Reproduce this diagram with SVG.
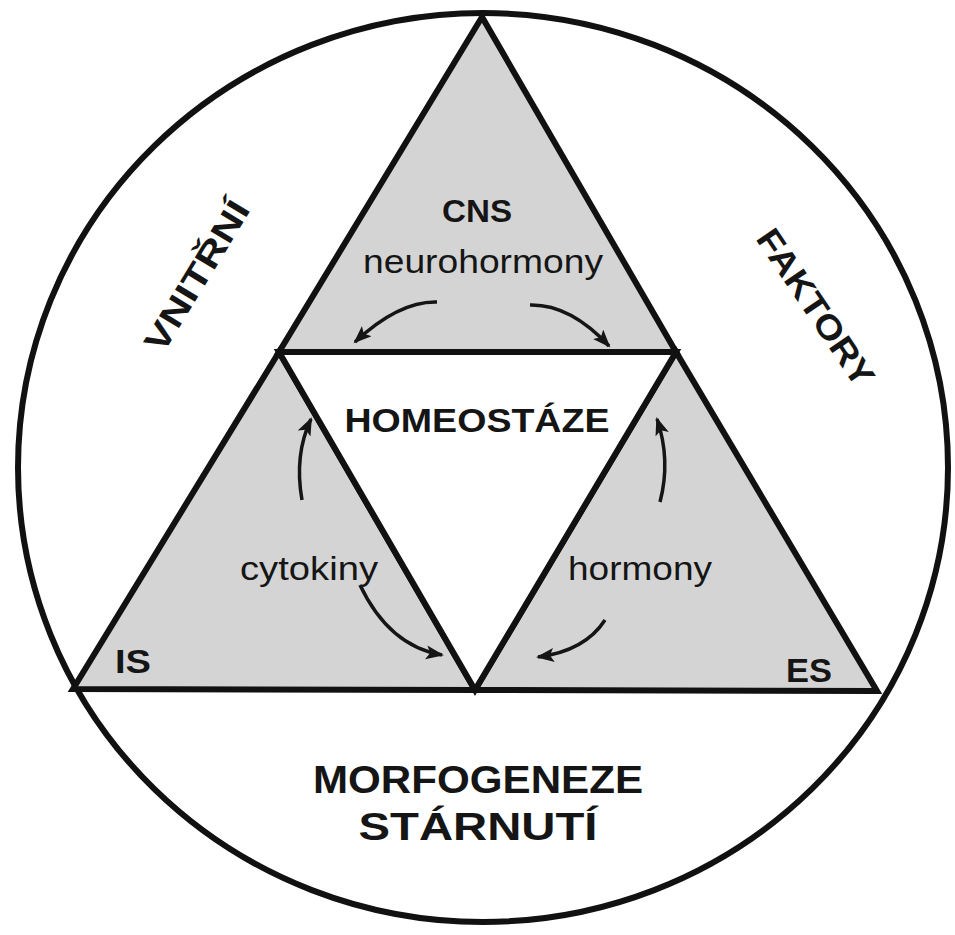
<svg xmlns="http://www.w3.org/2000/svg" width="955" height="935" viewBox="0 0 955 935">
  <style>
    .edge { stroke: #111; stroke-width: 6; stroke-linejoin: miter; }
    .gray { fill: #d4d4d4; }
    .white { fill: #ffffff; }
    .bold { font-family: "Liberation Sans", Arial, sans-serif; font-weight: bold; fill: #151515; }
    .reg { font-family: "Liberation Sans", Arial, sans-serif; fill: #151515; }
    .arrow { fill: none; stroke: #151515; stroke-width: 3.5; marker-end: url(#head); }
  </style>
  <defs>
    <marker id="head" markerUnits="userSpaceOnUse" markerWidth="20" markerHeight="16" refX="16" refY="7" orient="auto">
      <path d="M0,0 L18,7 L0,14 L4,7 Z" fill="#151515"/>
    </marker>
  </defs>
  <rect width="955" height="935" fill="#ffffff"/>

  <g id="outer-circle">
    <ellipse cx="483" cy="467.5" rx="465" ry="454.5" fill="none" stroke="#111" stroke-width="6"/>
    <text class="bold" font-size="34" text-anchor="middle" transform="translate(207,282) rotate(-58.7)" textLength="170" lengthAdjust="spacingAndGlyphs">VNITŘNÍ</text>
    <text class="bold" font-size="34" text-anchor="middle" transform="translate(806,314) rotate(56)" textLength="182" lengthAdjust="spacingAndGlyphs">FAKTORY</text>
    <text class="bold" font-size="38" text-anchor="middle" x="478" y="793" textLength="330" lengthAdjust="spacingAndGlyphs">MORFOGENEZE</text>
    <text class="bold" font-size="38" text-anchor="middle" x="478" y="840" textLength="239" lengthAdjust="spacingAndGlyphs">STÁRNUTÍ</text>
  </g>

  <g id="cns">
    <polygon class="gray edge" points="482,17 279,352 676,352"/>
    <text class="bold" font-size="31" text-anchor="middle" x="477" y="222" textLength="70" lengthAdjust="spacingAndGlyphs">CNS</text>
    <text class="reg" font-size="33" text-anchor="middle" x="483" y="273" textLength="240" lengthAdjust="spacingAndGlyphs">neurohormony</text>
  </g>

  <g id="is">
    <polygon class="gray edge" points="279,352 73,689 475,690"/>
    <text class="bold" font-size="34" x="115" y="673" textLength="36" lengthAdjust="spacingAndGlyphs">IS</text>
    <text class="reg" font-size="33" text-anchor="middle" x="309" y="580" textLength="138" lengthAdjust="spacingAndGlyphs">cytokiny</text>
  </g>

  <g id="es">
    <polygon class="gray edge" points="676,352 475,690 877,691"/>
    <text class="bold" font-size="34" x="786" y="682" textLength="46" lengthAdjust="spacingAndGlyphs">ES</text>
    <text class="reg" font-size="33" text-anchor="middle" x="640" y="580" textLength="144" lengthAdjust="spacingAndGlyphs">hormony</text>
  </g>

  <g id="homeostaze">
    <polygon class="white edge" points="279,352 676,352 475,690"/>
    <text class="bold" font-size="34" text-anchor="middle" x="477" y="432" textLength="265" lengthAdjust="spacingAndGlyphs">HOMEOSTÁZE</text>
  </g>

  <g id="connectors">
    <path class="arrow" d="M437,302 Q399,301 355,342"/>
    <path class="arrow" d="M530,305 Q570,304 609,346"/>
    <path class="arrow" d="M302,500 Q294,455 311,419"/>
    <path class="arrow" d="M360,585 Q389,646 442,655"/>
    <path class="arrow" d="M660,502 Q671,460 657,419"/>
    <path class="arrow" d="M605,620 Q585,651 538,657"/>
  </g>
</svg>
